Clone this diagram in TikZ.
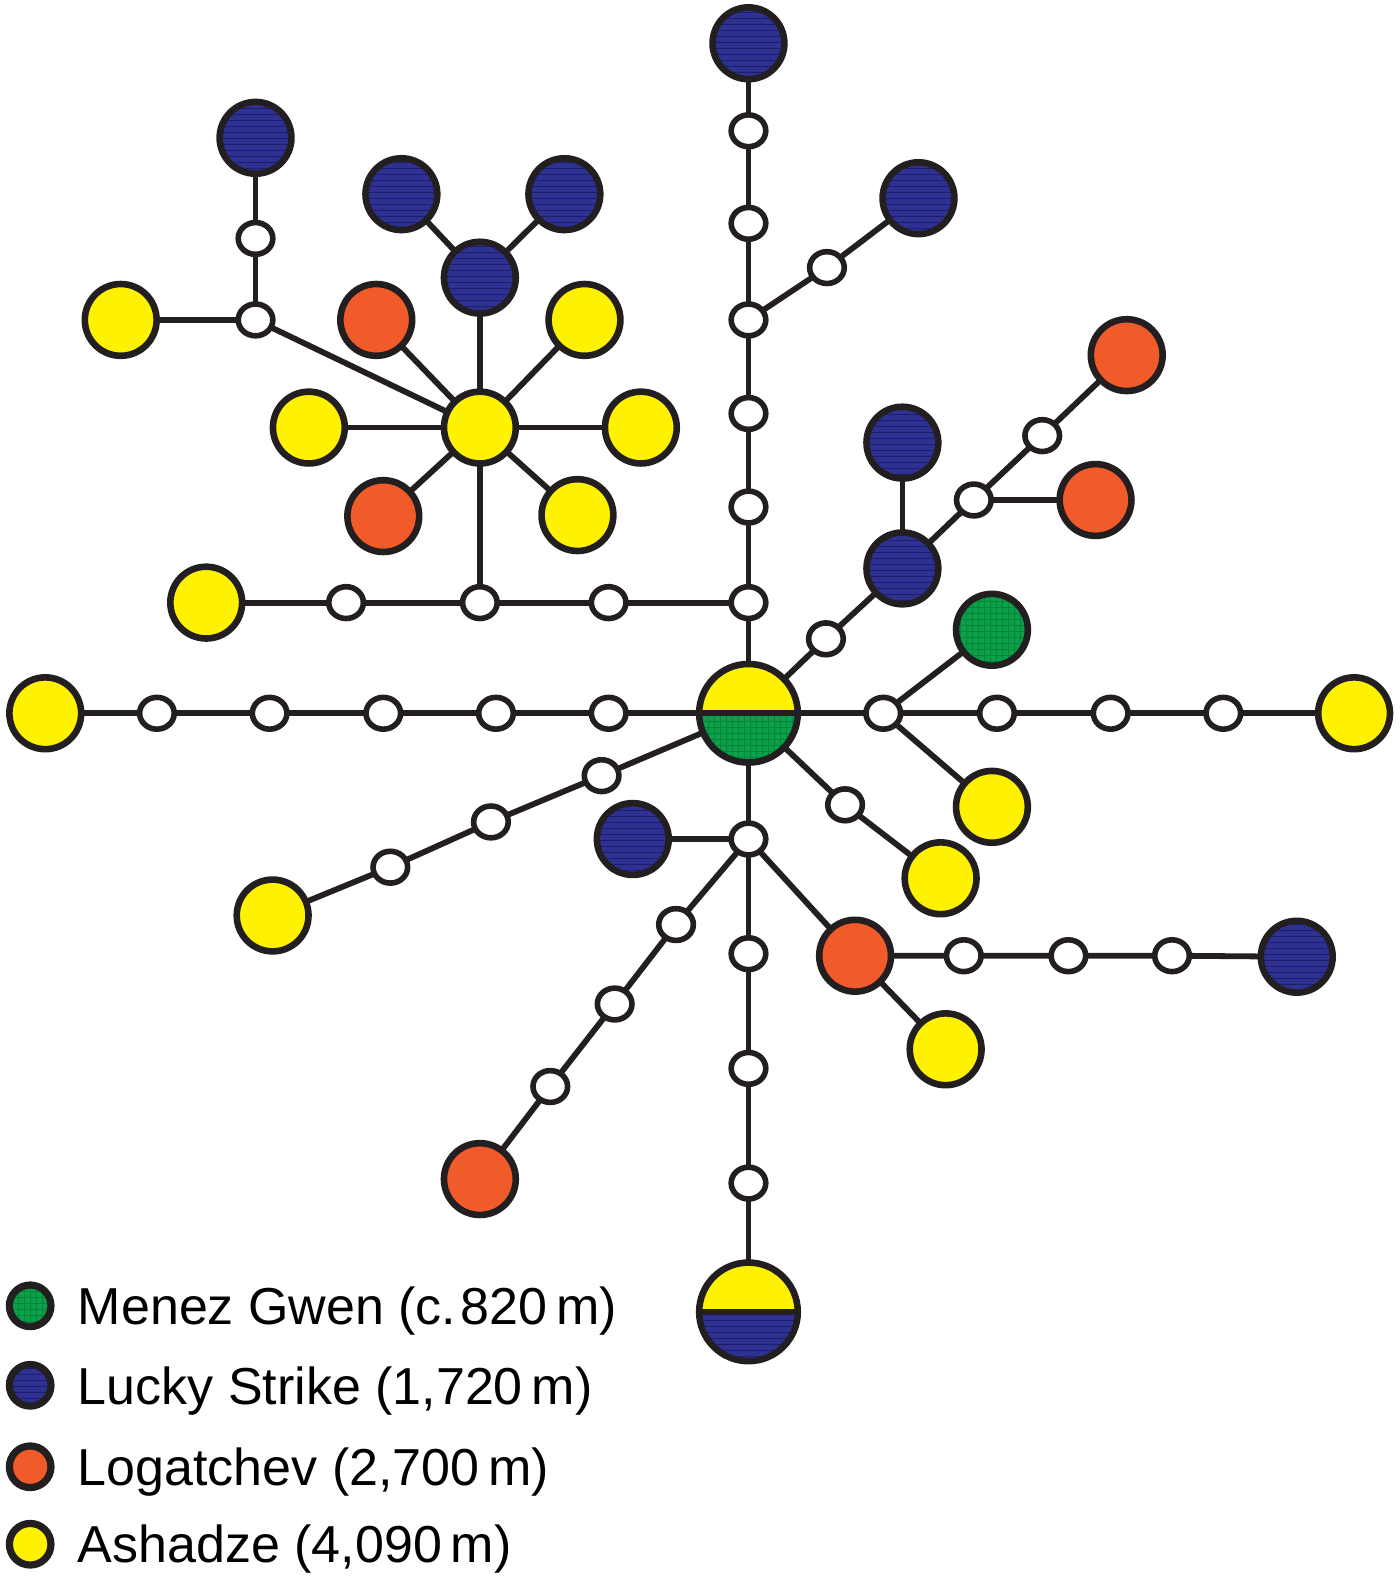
\documentclass[tikz,border=0pt]{standalone}
\usepackage{fontspec}
\setmainfont{Liberation Sans}
\usetikzlibrary{shapes.geometric,patterns,backgrounds}
\definecolor{cy}{HTML}{FFF200}
\definecolor{co}{HTML}{F15A29}
\definecolor{cb}{HTML}{2E3192}
\definecolor{cbl}{HTML}{1C1E6A}
\definecolor{cg}{HTML}{0BA14B}
\definecolor{cgl}{HTML}{06853A}
\definecolor{ck}{HTML}{231F20}
\tikzset{
  big/.style={circle, draw=ck, line width=3.3pt, minimum size=35.9pt, inner sep=0pt},
  yel/.style={big, fill=cy},
  ora/.style={big, fill=co},
  blu/.style={big, preaction={fill=cb}, pattern=horizontal lines, pattern color=cbl},
  grn/.style={big, preaction={fill=cg}, pattern=grid, pattern color=cgl},
  sm/.style={ellipse, draw=ck, fill=white, line width=2.8pt, minimum width=17.3pt, minimum height=15.9pt, inner sep=0pt},
  edge/.style={draw=ck, line width=2.9pt},
  halfbox/.style={circle, draw=ck, line width=3.3pt, minimum size=49.3pt, inner sep=0pt},
  halfyg/.style={halfbox, path picture={
    \fill[cy] (path picture bounding box.north west) rectangle (path picture bounding box.east);
    \fill[cg] (path picture bounding box.west) rectangle (path picture bounding box.south east);
    \fill[pattern=grid, pattern color=cgl] (path picture bounding box.west) rectangle (path picture bounding box.south east);
    \draw[ck, line width=3pt] (path picture bounding box.west) -- (path picture bounding box.east);}},
  halfyb/.style={halfbox, path picture={
    \fill[cy] (path picture bounding box.north west) rectangle (path picture bounding box.east);
    \fill[cb] (path picture bounding box.west) rectangle (path picture bounding box.south east);
    \fill[pattern=horizontal lines, pattern color=cbl] (path picture bounding box.west) rectangle (path picture bounding box.south east);
    \draw[ck, line width=3pt] (path picture bounding box.west) -- (path picture bounding box.east);}},
  legc/.style={circle, draw=ck, line width=3.6pt, minimum size=20.8pt, inner sep=0pt},
  legt/.style={anchor=base west, inner sep=0pt, text=black, font=\fontsize{26pt}{31pt}\selectfont}
}
\begin{document}
\begin{tikzpicture}[x=0.5pt,y=-0.5pt]
\useasboundingbox (0,0) rectangle (1400,1579);
\begin{scope}[x=0.503pt,y=-0.503pt]
% centre
\node[halfyg] (C) at (744,709) {};
% upward chain
\node[sm] (u1) at (744,599) {};
\node[sm] (u2) at (744,504) {};
\node[sm] (u3) at (744,411) {};
\node[sm] (u4) at (744,318) {};
\node[sm] (u5) at (744,222) {};
\node[sm] (u6) at (744,130) {};
\node[blu] (bt) at (744,43) {};
\node[sm] (v1) at (822,266) {};
\node[blu] (vb) at (913,197) {};
% left branch from u1
\node[sm] (h1) at (605,599) {};
\node[sm] (h2) at (477,599) {};
\node[sm] (h3) at (344,599) {};
\node[yel] (hy) at (205,599) {};
% star hub
\node[yel] (hub) at (477,425) {};
\node[blu] (hb) at (477,276) {};
\node[blu] (hbl) at (399,193) {};
\node[blu] (hbr) at (561,193) {};
\node[ora] (ho1) at (374,318) {};
\node[yel] (hy1) at (581,318) {};
\node[yel] (hy2) at (307,425) {};
\node[yel] (hy3) at (637,425) {};
\node[ora] (ho2) at (381,513) {};
\node[yel] (hy4) at (574,512) {};
\node[sm] (w1) at (254,318) {};
\node[yel] (wy) at (120,318) {};
\node[sm] (w2) at (254,237) {};
\node[blu] (wb) at (254,137) {};
% left row
\node[sm] (l1) at (605,709) {};
\node[sm] (l2) at (493,709) {};
\node[sm] (l3) at (381,709) {};
\node[sm] (l4) at (268,709) {};
\node[sm] (l5) at (156,709) {};
\node[yel] (ly) at (45,709) {};
% right row
\node[sm] (r1) at (878,709) {};
\node[sm] (r2) at (991,709) {};
\node[sm] (r3) at (1104,709) {};
\node[sm] (r4) at (1216,709) {};
\node[yel] (ry) at (1346,709) {};
\node[grn] (rg) at (986,626) {};
\node[yel] (ry2) at (986,802) {};
% upper-right diagonal
\node[sm] (d1) at (821,635) {};
\node[blu] (db) at (897,565) {};
\node[blu] (db2) at (897,440) {};
\node[sm] (d2) at (968,497) {};
\node[sm] (d3) at (1036,433) {};
\node[ora] (do) at (1120,353) {};
\node[ora] (do2) at (1089,497) {};
% lower right
\node[sm] (e1) at (840,800) {};
\node[yel] (ey) at (935,873) {};
% lower left
\node[sm] (f1) at (598,771) {};
\node[sm] (f2) at (488,817) {};
\node[sm] (f3) at (388,862) {};
\node[yel] (fy) at (271,910) {};
% downward
\node[sm] (g1) at (744,834) {};
\node[blu] (gb) at (629,834) {};
\node[sm] (g2) at (744,948) {};
\node[sm] (g3) at (744,1062) {};
\node[sm] (g4) at (744,1176) {};
\node[halfyb] (B) at (744,1304) {};
\node[ora] (go) at (850,950) {};
\node[sm] (k1) at (958,950) {};
\node[sm] (k2) at (1062,950) {};
\node[sm] (k3) at (1165,950) {};
\node[blu] (kb) at (1289,951) {};
\node[yel] (goy) at (940,1043) {};
\node[sm] (m1) at (672,919) {};
\node[sm] (m2) at (611,998) {};
\node[sm] (m3) at (547,1080) {};
\node[ora] (mo) at (477,1172) {};
% connectors
\begin{scope}[on background layer]
\draw[edge] (C.center) -- (u1.center) -- (u2.center) -- (u3.center) -- (u4.center) -- (u5.center) -- (u6.center) -- (bt.center);
\draw[edge] (u4.center) -- (v1.center) -- (vb.center);
\draw[edge] (u1.center) -- (h1.center) -- (h2.center) -- (h3.center) -- (hy.center);
\draw[edge] (h2.center) -- (hub.center) -- (hb.center);
\draw[edge] (hb.center) -- (hbl.center);
\draw[edge] (hb.center) -- (hbr.center);
\draw[edge] (hub.center) -- (ho1.center);
\draw[edge] (hub.center) -- (hy1.center);
\draw[edge] (hub.center) -- (hy2.center);
\draw[edge] (hub.center) -- (hy3.center);
\draw[edge] (hub.center) -- (ho2.center);
\draw[edge] (hub.center) -- (hy4.center);
\draw[edge] (hub.center) -- (w1.center) -- (wy.center);
\draw[edge] (w1.center) -- (w2.center) -- (wb.center);
\draw[edge] (C.center) -- (l1.center) -- (l2.center) -- (l3.center) -- (l4.center) -- (l5.center) -- (ly.center);
\draw[edge] (C.center) -- (r1.center) -- (r2.center) -- (r3.center) -- (r4.center) -- (ry.center);
\draw[edge] (r1.center) -- (rg.center);
\draw[edge] (r1.center) -- (ry2.center);
\draw[edge] (C.center) -- (d1.center) -- (db.center) -- (d2.center) -- (d3.center) -- (do.center);
\draw[edge] (db.center) -- (db2.center);
\draw[edge] (d2.center) -- (do2.center);
\draw[edge] (C.center) -- (e1.center) -- (ey.center);
\draw[edge] (C.center) -- (f1.center) -- (f2.center) -- (f3.center) -- (fy.center);
\draw[edge] (C.center) -- (g1.center) -- (g2.center) -- (g3.center) -- (g4.center) -- (B.center);
\draw[edge] (g1.center) -- (gb.center);
\draw[edge] (g1.center) -- (go.center) -- (k1.center) -- (k2.center) -- (k3.center) -- (kb.center);
\draw[edge] (go.center) -- (goy.center);
\draw[edge] (g1.center) -- (m1.center) -- (m2.center) -- (m3.center) -- (mo.center);
\end{scope}
% legend
\node[legc, preaction={fill=cg}, pattern=grid, pattern color=cgl] (lg) at (30,1298) {};
\node[legc, preaction={fill=cb}, pattern=horizontal lines, pattern color=cbl] (lb) at (30,1377) {};
\node[legc, fill=co] (lo) at (30,1458) {};
\node[legc, fill=cy] (ly2) at (30,1535) {};
\node[legt] (tg) at (77,1317) {Menez Gwen (c.\hspace{0.08em}820\hspace{0.17em}m)};
\node[legt] (tb) at (77,1396) {Lucky Strike (1,720\hspace{0.17em}m)};
\node[legt] (to) at (77,1477) {Logatchev (2,700\hspace{0.17em}m)};
\node[legt] (ta) at (77,1553) {Ashadze (4,090\hspace{0.17em}m)};
\end{scope}
\end{tikzpicture}
\end{document}
